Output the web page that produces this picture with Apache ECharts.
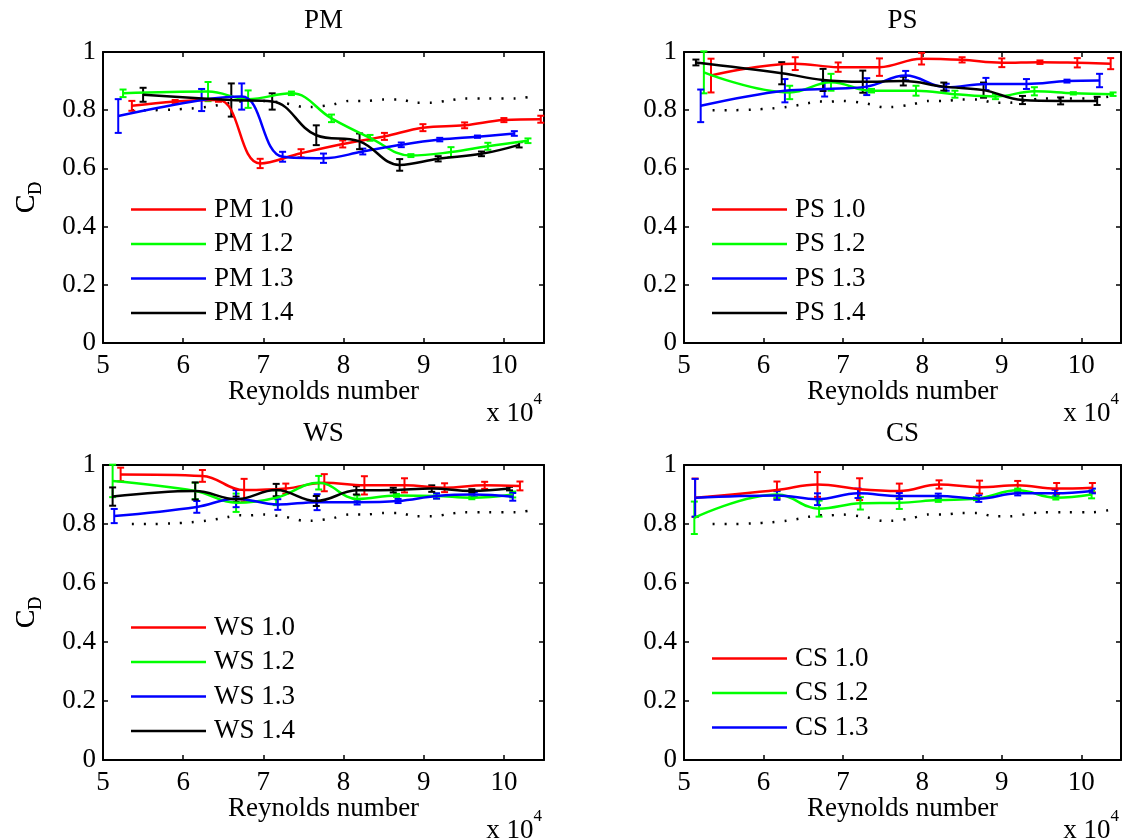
<!DOCTYPE html>
<html>
<head>
<meta charset="utf-8">
<script src="https://cdn.jsdelivr.net/npm/echarts@6/dist/echarts.min.js"></script>
<style>
  html, body { margin: 0; padding: 0; background: #fff; }
  #chart { width: 1126px; height: 838px; }
</style>
</head>
<body>
<div id="chart"></div>
<script>
// [Re (x 10^4), C_D, error half-width]
const pm10 = [[5.36,0.815,0.017],[5.9,0.83,0.005],[6.44,0.835,0.006],[6.96,0.617,0.016],[7.47,0.652,0.014],[7.99,0.684,0.012],[8.51,0.71,0.012],[8.99,0.74,0.012],[9.51,0.748,0.01],[10.0,0.766,0.007],[10.46,0.769,0.012]]
const pm12 = [[5.25,0.858,0.013],[6.31,0.864,0.033],[6.81,0.838,0.03],[7.35,0.858,0.006],[7.85,0.772,0.013],[8.33,0.705,0.01],[8.84,0.644,0.005],[9.34,0.656,0.017],[9.8,0.676,0.012],[10.3,0.695,0.008]]
const pm13 = [[5.19,0.78,0.058],[6.23,0.835,0.038],[6.73,0.847,0.045],[7.24,0.64,0.017],[7.75,0.635,0.016],[8.24,0.658,0.01],[8.72,0.681,0.008],[9.2,0.699,0.006],[9.67,0.709,0.004],[10.13,0.72,0.008]]
const pm14 = [[5.5,0.853,0.024],[6.6,0.835,0.057],[7.11,0.83,0.028],[7.66,0.714,0.034],[8.2,0.693,0.027],[8.7,0.612,0.02],[9.18,0.633,0.009],[9.72,0.65,0.008],[10.19,0.681,0.009]]

const ps10 = [[5.34,0.919,0.058],[6.4,0.96,0.022],[6.94,0.948,0.016],[7.46,0.948,0.03],[7.99,0.977,0.02],[8.5,0.973,0.009],[9.0,0.963,0.015],[9.48,0.965,0.006],[9.95,0.963,0.016],[10.37,0.96,0.019]]
const ps12 = [[5.25,0.93,0.072],[6.33,0.861,0.023],[6.85,0.896,0.029],[7.36,0.867,0.006],[7.92,0.867,0.017],[8.41,0.855,0.012],[8.92,0.847,0.009],[9.41,0.865,0.014],[9.9,0.858,0.004],[10.4,0.855,0.006]]
const ps13 = [[5.21,0.815,0.056],[6.27,0.867,0.04],[6.77,0.873,0.026],[7.3,0.881,0.029],[7.79,0.919,0.016],[8.3,0.879,0.012],[8.8,0.89,0.021],[9.31,0.89,0.017],[9.82,0.9,0.005],[10.23,0.902,0.023]]
const ps14 = [[5.15,0.964,0.01],[6.23,0.927,0.038],[6.75,0.904,0.038],[7.25,0.898,0.038],[7.76,0.9,0.015],[8.27,0.881,0.014],[8.77,0.869,0.026],[9.26,0.835,0.014],[9.74,0.832,0.012],[10.2,0.832,0.014]]

const ws10 = [[5.22,0.968,0.023],[6.24,0.963,0.02],[6.76,0.915,0.038],[7.28,0.92,0.017],[7.76,0.94,0.029],[8.26,0.931,0.031],[8.76,0.931,0.024],[9.26,0.923,0.015],[9.76,0.931,0.012],[10.2,0.929,0.015]]
const ws12 = [[5.12,0.946,0.055],[6.15,0.912,0.028],[6.66,0.872,0.031],[7.16,0.889,0.025],[7.69,0.94,0.023],[8.17,0.885,0.012],[8.66,0.897,0.005],[9.16,0.895,0.008],[9.6,0.889,0.005],[10.11,0.9,0.01]]
const ws13 = [[5.14,0.827,0.024],[6.17,0.858,0.02],[6.66,0.886,0.029],[7.18,0.866,0.018],[7.67,0.874,0.027],[8.17,0.874,0.008],[8.68,0.878,0.007],[9.16,0.895,0.009],[9.63,0.9,0.008],[10.11,0.892,0.013]]
const ws14 = [[5.12,0.893,0.031],[6.15,0.912,0.029],[6.66,0.884,0.009],[7.16,0.915,0.021],[7.66,0.878,0.017],[8.16,0.914,0.014],[8.62,0.915,0.008],[9.1,0.92,0.011],[9.6,0.912,0.006],[10.07,0.92,0.006]]

const cs10 = [[5.14,0.889,0.065],[6.17,0.915,0.029],[6.68,0.934,0.042],[7.21,0.918,0.037],[7.71,0.912,0.025],[8.21,0.934,0.014],[8.72,0.925,0.022],[9.2,0.931,0.015],[9.69,0.92,0.019],[10.14,0.923,0.016]]
const cs12 = [[5.13,0.821,0.055],[6.17,0.9,0.011],[6.7,0.852,0.027],[7.22,0.87,0.021],[7.71,0.872,0.021],[8.2,0.881,0.006],[8.68,0.886,0.005],[9.2,0.914,0.006],[9.68,0.889,0.006],[10.13,0.9,0.013]]
const cs13 = [[5.14,0.889,0.064],[6.17,0.897,0.015],[6.68,0.884,0.02],[7.19,0.904,0.016],[7.71,0.895,0.01],[8.2,0.895,0.008],[8.71,0.886,0.011],[9.2,0.904,0.007],[9.67,0.904,0.012],[10.14,0.912,0.008]]

// dotted reference curve, same in every panel
const refRe = [5.36,5.6,5.86,6.1,6.29,6.45,6.56,6.7,6.81,7.0,7.23,7.35,7.5,7.6,7.87,8.07,8.28,8.49,8.7,8.9,9.1,9.32,9.5,9.8,10.15,10.35]
const refCd = [0.8,0.8,0.802,0.806,0.811,0.818,0.824,0.83,0.829,0.832,0.826,0.82,0.811,0.811,0.82,0.832,0.832,0.837,0.837,0.826,0.826,0.834,0.84,0.84,0.84,0.847]

const xTicks = [5, 6, 7, 8, 9, 10]
const yTicks = [0, 0.2, 0.4, 0.6, 0.8, 1]

const RED = '#ff0000', GREEN = '#00ff00', BLUE = '#0000ff', BLACK = '#000000'
const FONT = 'Liberation Serif'

const panels = [
  { title: 'PM', left: 103, top: 52, width: 441, height: 291, legendTop: 196,
    lines: [['PM 1.0', RED, pm10], ['PM 1.2', GREEN, pm12], ['PM 1.3', BLUE, pm13], ['PM 1.4', BLACK, pm14]] },
  { title: 'PS', left: 684, top: 52, width: 437, height: 291, legendTop: 196,
    lines: [['PS 1.0', RED, ps10], ['PS 1.2', GREEN, ps12], ['PS 1.3', BLUE, ps13], ['PS 1.4', BLACK, ps14]] },
  { title: 'WS', left: 103, top: 465, width: 441, height: 295, legendTop: 614,
    lines: [['WS 1.0', RED, ws10], ['WS 1.2', GREEN, ws12], ['WS 1.3', BLUE, ws13], ['WS 1.4', BLACK, ws14]] },
  { title: 'CS', left: 684, top: 465, width: 437, height: 295, legendTop: 645,
    lines: [['CS 1.0', RED, cs10], ['CS 1.2', GREEN, cs12], ['CS 1.3', BLUE, cs13]] },
]

const chart = echarts.init(document.getElementById('chart'), null, { renderer: 'canvas' })

const axisLine = { show: true, onZero: false, lineStyle: { color: '#000', width: 2 } }
const axisTick = { show: true, inside: true, length: 5, lineStyle: { color: '#000', width: 1.5 } }
const labelText = { color: '#000', fontFamily: FONT, fontSize: 27 }

const grid = [], xAxis = [], yAxis = [], series = [], legend = [], title = [], graphic = []

panels.forEach((p, i) => {
  grid.push({ left: p.left, top: p.top, width: p.width, height: p.height, containLabel: false, outerBoundsMode: 'none' })

  xAxis.push({
    type: 'value', gridIndex: i, position: 'bottom',
    min: xTicks[0], max: 10.5, interval: xTicks[1] - xTicks[0],
    axisLine, axisTick, splitLine: { show: false },
    axisLabel: { ...labelText, margin: 9, formatter: v => (xTicks.indexOf(v) >= 0 ? String(v) : '') },
    name: 'Reynolds number', nameLocation: 'middle', nameGap: 35, nameMoveOverlap: false,
    nameTextStyle: { ...labelText },
  })
  xAxis.push({
    type: 'value', gridIndex: i, position: 'top',
    min: xTicks[0], max: 10.5, interval: xTicks[1] - xTicks[0],
    axisLine, axisTick, splitLine: { show: false }, axisLabel: { show: false },
  })
  yAxis.push({
    type: 'value', gridIndex: i, position: 'left',
    min: yTicks[0], max: yTicks[yTicks.length - 1], interval: yTicks[1] - yTicks[0],
    axisLine, axisTick, splitLine: { show: false },
    axisLabel: { ...labelText, margin: 7 },
  })
  yAxis.push({
    type: 'value', gridIndex: i, position: 'right',
    min: yTicks[0], max: yTicks[yTicks.length - 1], interval: yTicks[1] - yTicks[0],
    axisLine, axisTick, splitLine: { show: false }, axisLabel: { show: false },
  })

  // dotted reference
  series.push({
    type: 'line', xAxisIndex: i * 2, yAxisIndex: i * 2, silent: true, z: 2,
    symbol: 'none', smooth: 0.3,
    lineStyle: { color: '#000', width: 2.5, type: [2, 10] },
    data: refRe.map((r, k) => [r, refCd[k]]),
  })

  p.lines.forEach(([name, color, pts]) => {
    series.push({
      name, type: 'line', xAxisIndex: i * 2, yAxisIndex: i * 2, z: 3,
      symbol: 'none', smooth: 0.4,
      lineStyle: { color, width: 2.5 }, itemStyle: { color },
      data: pts.map(d => [d[0], d[1]]),
    })
    series.push({
      type: 'custom', xAxisIndex: i * 2, yAxisIndex: i * 2, z: 3, silent: true,
      data: pts.map(d => [d[0], d[1] - d[2], d[1] + d[2]]),
      encode: { x: 0, y: [1, 2] },
      renderItem: (params, api) => {
        const lo = api.coord([api.value(0), api.value(1)])
        const hi = api.coord([api.value(0), api.value(2)])
        const w = 3.5
        const style = { stroke: color, lineWidth: 2 }
        return {
          type: 'group',
          children: [
            { type: 'line', shape: { x1: lo[0], y1: lo[1], x2: hi[0], y2: hi[1] }, style },
            { type: 'line', shape: { x1: lo[0] - w, y1: lo[1], x2: lo[0] + w, y2: lo[1] }, style },
            { type: 'line', shape: { x1: hi[0] - w, y1: hi[1], x2: hi[0] + w, y2: hi[1] }, style },
          ],
        }
      },
    })
  })

  legend.push({
    orient: 'vertical', left: p.left + 28, top: p.legendTop, padding: 0,
    itemWidth: 75, itemHeight: 2.5, itemGap: 7.5, icon: 'rect', selectedMode: false,
    textStyle: { ...labelText, lineHeight: 26, padding: [0, 0, 0, 3] },
    data: p.lines.map(l => l[0]),
  })

  title.push({
    text: p.title, left: p.left + p.width / 2, textAlign: 'center', top: p.top - 45, padding: 0,
    textStyle: { ...labelText, fontWeight: 'normal' },
  })

  // C_D label
  graphic.push({
    type: 'text', x: 27, y: p.top + p.height / 2, rotation: Math.PI / 2,
    style: {
      text: '{c|C}{d|D}', align: 'center', verticalAlign: 'middle',
      rich: {
        c: { fontFamily: FONT, fontSize: 28, lineHeight: 36, fill: '#000' },
        d: { fontFamily: FONT, fontSize: 18, lineHeight: 18, verticalAlign: 'bottom', fill: '#000' },
      },
    },
  })
  // x 10^4 multiplier
  graphic.push({
    type: 'text', x: p.left + p.width - 2, y: p.top + p.height + 66,
    style: {
      text: '{a|x 10}{b|4}', align: 'right', verticalAlign: 'middle',
      rich: {
        a: { fontFamily: FONT, fontSize: 27, lineHeight: 36, verticalAlign: 'bottom', fill: '#000' },
        b: { fontFamily: FONT, fontSize: 17, lineHeight: 17, verticalAlign: 'top', fill: '#000' },
      },
    },
  })
})

chart.setOption({
  backgroundColor: '#fff',
  animation: false,
  title, grid, xAxis, yAxis, legend, series, graphic,
})
</script>
</body>
</html>
